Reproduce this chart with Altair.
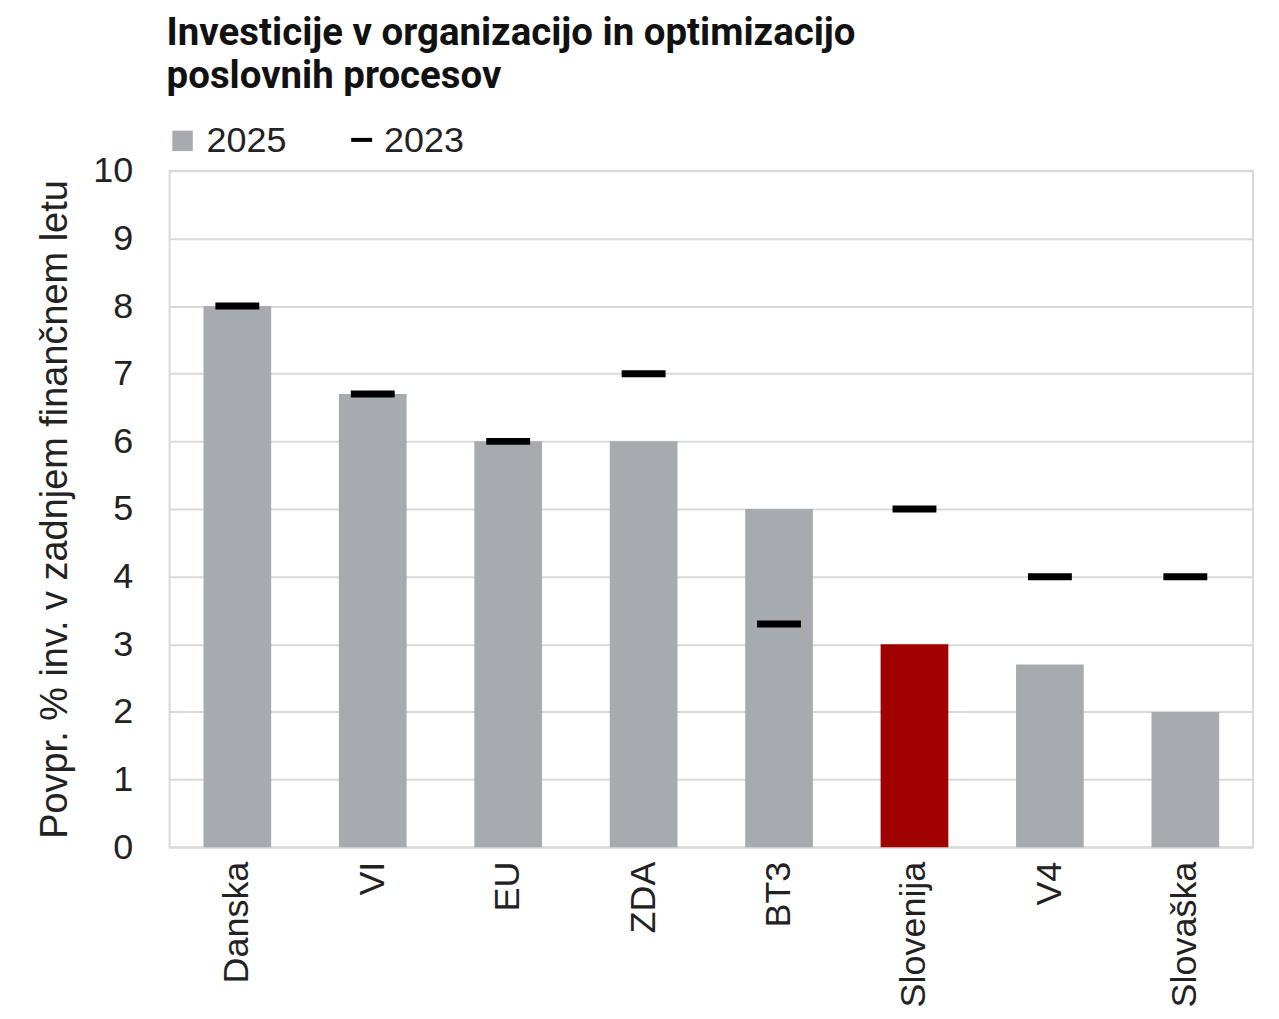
import altair as alt
import pandas as pd

categories = ["Danska", "VI", "EU", "ZDA", "BT3", "Slovenija", "V4", "Slovaška"]
values_2025 = [8.0, 6.7, 6.0, 6.0, 5.0, 3.0, 2.7, 2.0]
values_2023 = [8.0, 6.7, 6.0, 7.0, 3.3, 5.0, 4.0, 4.0]
highlight = "Slovenija"

GRAY = "#a7abb0"
RED = "#a00000"
GRID = "#d9d9d9"
FONT = "Liberation Sans, Arial, sans-serif"
TITLE_FONT = "Liberation Sans Narrow, Roboto, sans-serif"

df = pd.DataFrame({
    "kat": categories,
    "v2025": values_2025,
    "v2023": values_2023,
    "barva": [RED if c == highlight else GRAY for c in categories],
})

x = alt.X("kat:N", sort=categories, title=None,
          scale=alt.Scale(paddingInner=0.5, paddingOuter=0.25),
          axis=alt.Axis(labelAngle=270, labelFontSize=36, labelFont=FONT,
                        labelColor="#222222", labelPadding=14, ticks=False,
                        domain=False, grid=False))

y = alt.Y("v2025:Q", title="Povpr. % inv. v zadnjem finančnem letu",
          scale=alt.Scale(domain=[0, 10], nice=False),
          axis=alt.Axis(values=list(range(0, 11)), format="d", labelFontSize=36,
                        labelFont=FONT, labelColor="#222222", labelPadding=37,
                        ticks=False, domain=False, gridColor=GRID, gridWidth=2,
                        titleFontSize=38, titleFont=FONT, titleFontWeight="normal",
                        titleColor="#222222", titlePadding=18))

bars = alt.Chart(df).mark_bar().encode(
    x=x, y=y, color=alt.Color("barva:N", scale=None)
)

ticks = alt.Chart(df).mark_tick(color="black", size=44, thickness=7, opacity=1).encode(
    x=alt.X("kat:N", sort=categories),
    y=alt.Y("v2023:Q"),
)

leg = pd.DataFrame({"lab": ["2025"]})
leg_sq = alt.Chart(leg).mark_square(color=GRAY, size=420, opacity=1).encode(
    x=alt.value(13), y=alt.value(-30))
leg_t1 = alt.Chart(leg).mark_text(text="2025", align="left", baseline="middle",
                                  fontSize=36, font=FONT, color="#222222").encode(
    x=alt.value(37), y=alt.value(-30))
leg_dash = alt.Chart(leg).mark_rule(color="black", strokeWidth=4).encode(
    x=alt.value(182), x2=alt.value(203), y=alt.value(-31))
leg_t2 = alt.Chart(leg).mark_text(text="2023", align="left", baseline="middle",
                                  fontSize=36, font=FONT, color="#222222").encode(
    x=alt.value(215), y=alt.value(-30))

chart = alt.layer(bars, ticks, leg_sq, leg_t1, leg_dash, leg_t2).properties(
    width=1086, height=678,
    title=alt.TitleParams(
        text=["Investicije v organizacijo in optimizacijo", "poslovnih procesov"],
        anchor="start", frame="group", font=TITLE_FONT, fontSize=38.5,
        fontWeight="bold", color="#111111", offset=27, dx=-3, lineHeight=43),
    padding={"left": 162, "top": 162, "right": 18, "bottom": 171},
    autosize="none",
).configure_view(stroke=GRID, strokeWidth=2)

chart.save("out.html", embed_options={"renderer": "svg", "actions": False})
